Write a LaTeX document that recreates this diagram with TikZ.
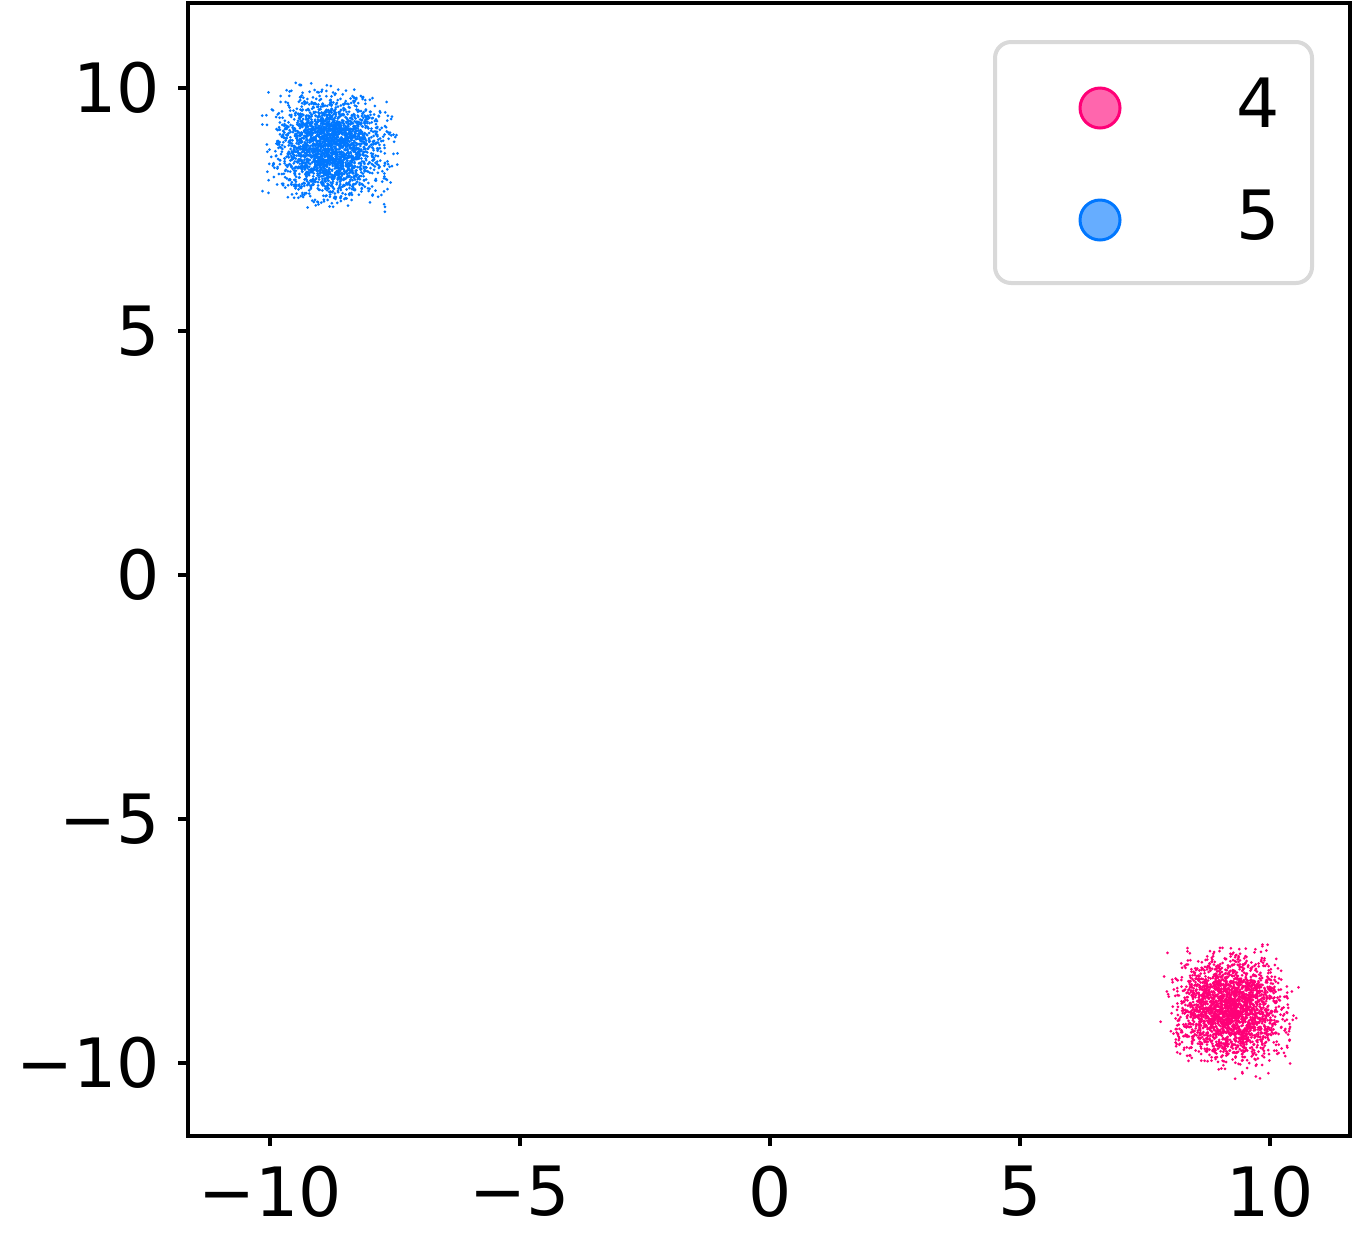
\documentclass[tikz,border=0pt]{standalone}
\usepackage{fontspec}
\setmainfont{DejaVu Sans}
\usetikzlibrary{positioning}
\definecolor{pinkdot}{HTML}{FF0077}
\definecolor{bluedot}{HTML}{0077FF}
\tikzset{
  tick label/.style = {font=\fontsize{34}{40}\selectfont, inner sep=0pt},
  dot/.style = {fill=#1, draw=none},
  legend dot/.style = {circle, minimum size=20, inner sep=0pt, fill=#1, fill opacity=0.6, draw=#1, line width=1.5}
}
\begin{document}
\begin{tikzpicture}[x=0.5pt, y=-0.5pt]
  \useasboundingbox (0,0) rectangle (1353,1238);
  % clouds
  \pgfmathsetseed{7}
  \foreach \i in {1,...,2500} {
    \pgfmathsetmacro\dx{25*(rand+rand+rand)}
    \pgfmathsetmacro\dy{24*(rand+rand+rand)}
    \fill[bluedot] (330+\dx,146+\dy) circle[radius=1.5];
  }
  \foreach \i in {1,...,2500} {
    \pgfmathsetmacro\dx{25*(rand+rand+rand)}
    \pgfmathsetmacro\dy{24*(rand+rand+rand)}
    \fill[pinkdot] (1230+\dx,1009+\dy) circle[radius=1.5];
  }
  % axes
  \draw[line width=2] (188,3) rectangle (1350,1136);
  \foreach \v/\t in {-10/−10,-5/−5,0/0,5/5,10/10} {
    \draw[line width=2] (770+50*\v,1136) -- (770+50*\v,1146);
    \node[tick label, anchor=north] at (770+50*\v,1166) {\t};
    \draw[line width=2] (188,575-48.75*\v) -- (178,575-48.75*\v);
    \node[tick label, anchor=east] at (160,575-48.75*\v) {\t};
  }
  % legend
  \draw[rounded corners=8, draw=black!15, line width=2, fill=white] (995,42) rectangle (1312,283);
  \node[legend dot=pinkdot] (m4) at (1100,108) {};
  \node[legend dot=bluedot] (m5) at (1100,220) {};
  \node[tick label, anchor=east] (l4) at (1280,103) {4};
  \node[tick label, anchor=east] (l5) at (1280,215) {5};
\end{tikzpicture}
\end{document}
